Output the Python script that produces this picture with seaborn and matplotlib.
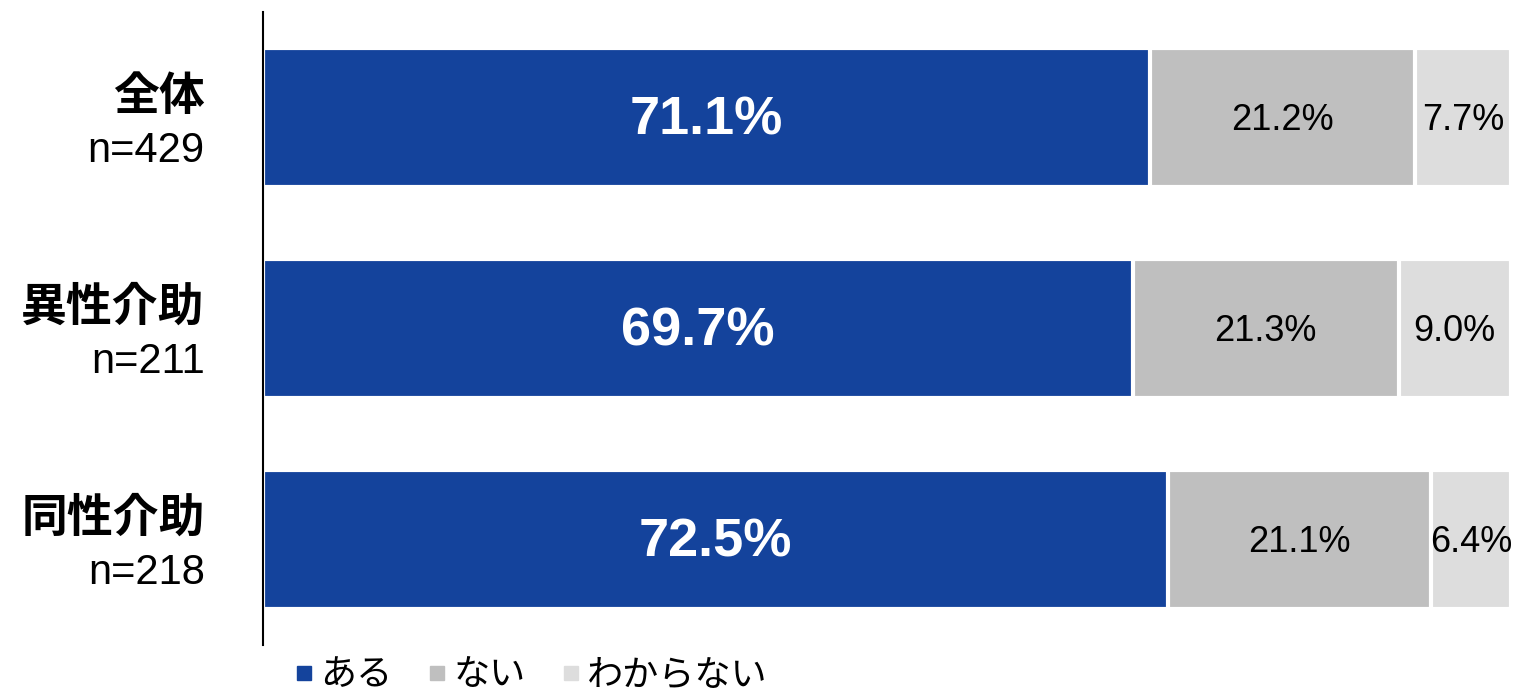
import numpy as np
import pandas as pd
import matplotlib.pyplot as plt
import seaborn as sns
from matplotlib.lines import Line2D

sns.set_theme(style='white')
plt.rcParams['font.family'] = ['Liberation Sans', 'Noto Sans CJK JP', 'DejaVu Sans']
plt.rcParams['text.color'] = 'black'

# data
groups = ['全体', '異性介助', '同性介助']
counts = ['n=429', 'n=211', 'n=218']
aru = [71.1, 69.7, 72.5]
nai = [21.2, 21.3, 21.1]
wakaranai = [7.7, 9.0, 6.4]
series_names = ['ある', 'ない', 'わからない']
colors = ['#14439C', '#BFBFBF', '#DDDDDD']

df = pd.DataFrame({'group': groups, 'aru': aru, 'nai': nai, 'wakaranai': wakaranai})
df['c1'] = df['aru']
df['c2'] = df['aru'] + df['nai']
df['c3'] = df['c2'] + df['wakaranai']

fig = plt.figure(figsize=(15.17, 6.93), dpi=100)
ax = fig.add_axes([0.1734, 0.0693, 0.8226, 0.9134])

# stacked by layering cumulative totals
for col, color in zip(['c3', 'c2', 'c1'], colors[::-1]):
    sns.barplot(data=df, x=col, y='group', color=color, saturation=1, width=0.66,
                edgecolor='white', linewidth=3, ax=ax, orient='h')

ax.set_xlim(0, 100)
ax.set_xlabel('')
ax.set_ylabel('')
ax.set_xticks([])
ax.set_yticks(range(len(groups)))
ax.set_yticklabels([])
ax.tick_params(left=False)
for s in ['top', 'right', 'bottom']:
    ax.spines[s].set_visible(False)
ax.spines['left'].set_color('black')
ax.spines['left'].set_linewidth(1.5)

# value labels
for i in range(len(groups)):
    ax.text(aru[i] / 2, i + 0.015, f'{aru[i]:.1f}%', ha='center', va='center',
            color='white', fontsize=39, fontweight='bold')
    ax.text(aru[i] + nai[i] / 2, i + 0.015, f'{nai[i]:.1f}%', ha='center', va='center',
            color='black', fontsize=26)
    ax.text(aru[i] + nai[i] + wakaranai[i] / 2, i + 0.015, f'{wakaranai[i]:.1f}%',
            ha='center', va='center', color='black', fontsize=26)

# category labels
for i in range(len(groups)):
    ax.annotate(groups[i], xy=(0, i), xycoords=('axes fraction', 'data'),
                xytext=(-42, 15), textcoords='offset points', ha='right', va='center',
                fontsize=33, fontweight='bold', family=['Noto Sans CJK JP', 'DejaVu Sans'])
    ax.annotate(counts[i], xy=(0, i), xycoords=('axes fraction', 'data'),
                xytext=(-42, -24), textcoords='offset points', ha='right', va='center',
                fontsize=30)

handles = [Line2D([0], [0], marker='s', linestyle='none', markersize=10,
                  markerfacecolor=c, markeredgecolor=c) for c in colors]
leg = ax.legend(handles, series_names, loc='center left', bbox_to_anchor=(0.011, -0.048),
                ncol=3, frameon=False, handletextpad=0.1, columnspacing=0.9,
                handlelength=0.7, borderaxespad=0,
                prop={'family': ['Noto Sans CJK JP', 'DejaVu Sans'], 'size': 26})

fig.savefig('out.png', dpi=100)
